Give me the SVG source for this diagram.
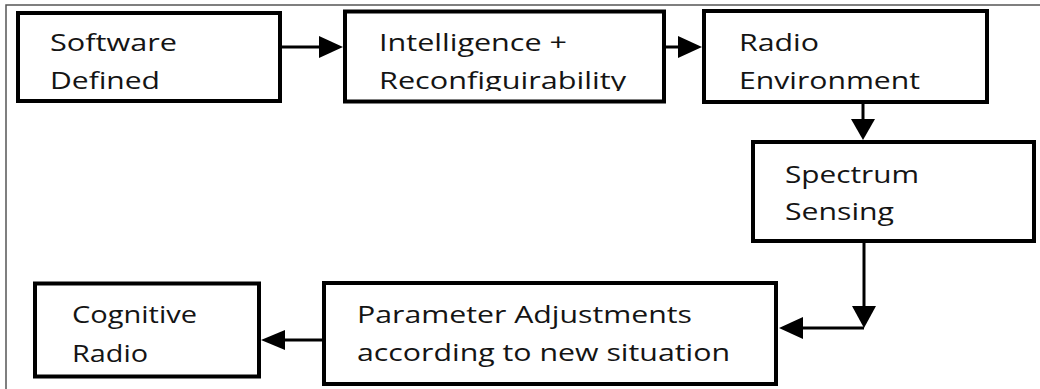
<svg xmlns="http://www.w3.org/2000/svg" width="1040" height="389" viewBox="0 0 1040 389">
<style>
.box{fill:#fff;stroke:#000;stroke-width:4}
.lbl{font-family:"Open Sans","Liberation Sans",sans-serif;font-size:24px;fill:#141414}
.ln{stroke:#000;stroke-width:3;fill:none}
.hd{fill:#000}
.frame{stroke:#555;stroke-width:1.5;fill:none}
</style>
<defs>
<clipPath id="topclip"><rect x="0" y="0" width="1040" height="91"/></clipPath>
</defs>
<rect width="1040" height="389" fill="#fff"/>
<path class="frame" d="M1040 5 H6 V389"/>
<g id="connectors">
<line class="ln" x1="281" y1="47" x2="321" y2="47"/>
<polygon class="hd" points="343,47 319,36 319,58"/>
<line class="ln" x1="661" y1="47" x2="680" y2="47"/>
<polygon class="hd" points="702,47 678,36 678,58"/>
<line class="ln" x1="863" y1="103" x2="863" y2="121"/>
<polygon class="hd" points="863,140 851,119 875,119"/>
<line class="ln" x1="864" y1="243" x2="864" y2="308"/>
<polygon class="hd" points="864,328 852,306 876,306"/>
<line class="ln" x1="864" y1="328" x2="800" y2="328"/>
<polygon class="hd" points="779,328 803,317 803,339"/>
<line class="ln" x1="322" y1="340" x2="283" y2="340"/>
<polygon class="hd" points="261,340 285,330 285,350"/>
</g>
<g id="node-software-defined">
<rect class="box" x="18" y="13" width="262" height="88"/>
<g clip-path="url(#topclip)">
<text class="lbl" x="50" y="51" textLength="127" lengthAdjust="spacingAndGlyphs">Software</text>
<text class="lbl" x="50" y="89" textLength="110" lengthAdjust="spacingAndGlyphs">Defined</text>
</g>
</g>
<g id="node-intelligence">
<rect class="box" x="345" y="11.5" width="319" height="90"/>
<g clip-path="url(#topclip)">
<text class="lbl" x="379" y="51" textLength="188" lengthAdjust="spacingAndGlyphs">Intelligence +</text>
<text class="lbl" x="379" y="89" textLength="247" lengthAdjust="spacingAndGlyphs">Reconfiguirability</text>
</g>
</g>
<g id="node-radio-environment">
<rect class="box" x="704" y="11" width="283" height="91"/>
<g clip-path="url(#topclip)">
<text class="lbl" x="739" y="51" textLength="80" lengthAdjust="spacingAndGlyphs">Radio</text>
<text class="lbl" x="739" y="89" textLength="181" lengthAdjust="spacingAndGlyphs">Environment</text>
</g>
</g>
<g id="node-spectrum-sensing">
<rect class="box" x="753" y="142" width="281" height="99"/>
<text class="lbl" x="785" y="183" textLength="134" lengthAdjust="spacingAndGlyphs">Spectrum</text>
<text class="lbl" x="785" y="220" textLength="109" lengthAdjust="spacingAndGlyphs">Sensing</text>
</g>
<g id="node-parameter-adjustments">
<rect class="box" x="324" y="283" width="452" height="101"/>
<text class="lbl" x="357" y="323" textLength="335" lengthAdjust="spacingAndGlyphs">Parameter Adjustments</text>
<text class="lbl" x="357" y="361" textLength="373" lengthAdjust="spacingAndGlyphs">according to new situation</text>
</g>
<g id="node-cognitive-radio">
<rect class="box" x="35" y="283.5" width="224" height="93"/>
<text class="lbl" x="72" y="323" textLength="125" lengthAdjust="spacingAndGlyphs">Cognitive</text>
<text class="lbl" x="72" y="362" textLength="76" lengthAdjust="spacingAndGlyphs">Radio</text>
</g>
</svg>
